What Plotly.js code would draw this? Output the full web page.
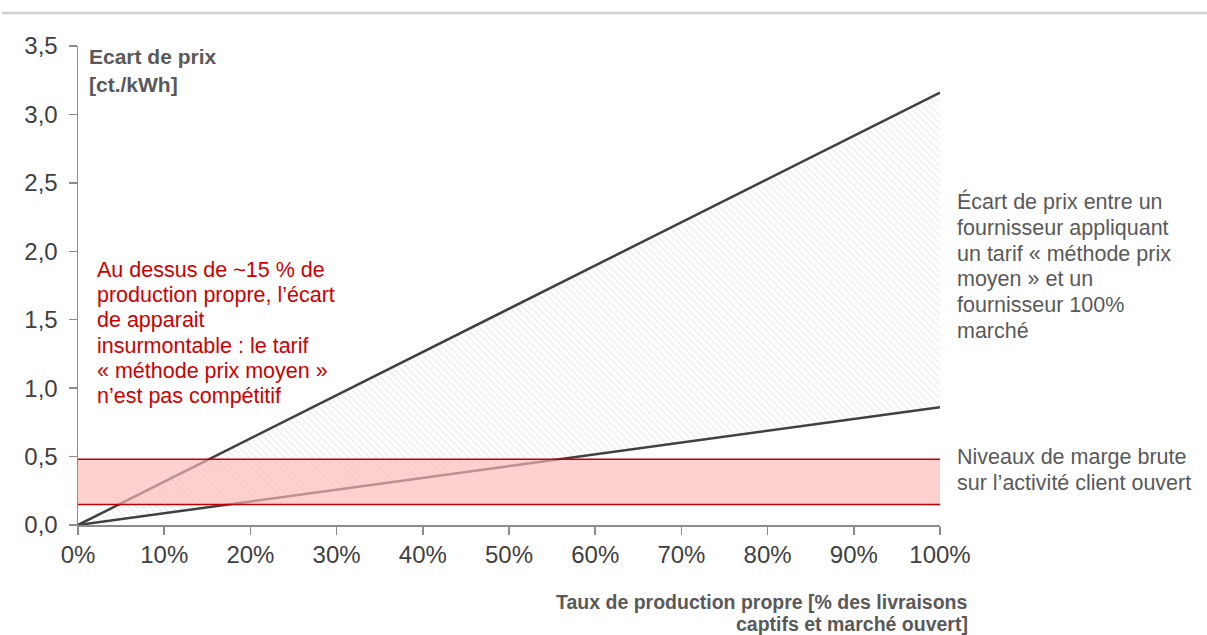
<!DOCTYPE html>
<html>
<head>
<meta charset="utf-8">
<script src="https://cdn.plot.ly/plotly-3.0.1.min.js"></script>
<style>
html,body{margin:0;padding:0;background:#fff;}
#chart{width:1207px;height:635px;}
</style>
</head>
<body>
<div id="chart"></div>
<script>
// ---- data ----
const share = [0, 1];                 // taux de production propre (0%..100%)
const upperGap = [0, 3.16];           // écart de prix, borne haute [ct./kWh]
const lowerGap = [0, 0.86];           // écart de prix, borne basse [ct./kWh]
const marginLow = [0.15, 0.15];       // niveau de marge brute bas
const marginHigh = [0.48, 0.48];      // niveau de marge brute haut
const xTickVals = [0, 0.1, 0.2, 0.3, 0.4, 0.5, 0.6, 0.7, 0.8, 0.9, 1];
const xTickText = ['0%', '10%', '20%', '30%', '40%', '50%', '60%', '70%', '80%', '90%', '100%'];
const yTickVals = [0, 0.5, 1, 1.5, 2, 2.5, 3, 3.5];
const yTickText = ['0,0', '0,5', '1,0', '1,5', '2,0', '2,5', '3,0', '3,5'];

const yTitleLines = ['<b>Ecart de prix</b>', '<b>[ct./kWh]</b>'];
const xTitleLines = ['<b>Taux de production propre [% des livraisons</b>', '<b>captifs et marché ouvert]</b>'];
const noteRedLines = ['Au dessus de ~15 % de', 'production propre, l’écart', 'de apparait',
  'insurmontable : le tarif', '« méthode prix moyen »', 'n’est pas compétitif'];
const noteGapLines = ['Écart de prix entre un', 'fournisseur appliquant', 'un tarif « méthode prix',
  'moyen » et un', 'fournisseur 100%', 'marché'];
const noteMarginLines = ['Niveaux de marge brute', 'sur l’activité client ouvert'];

const FONT = 'Liberation Sans, Arial, sans-serif';
const DARK = '#404040';
const GREY = '#595959';
const RED = '#C00000';

// plot area in pixels
const M = {l: 78, r: 267, t: 46, b: 110};
const PW = 1207 - M.l - M.r, PH = 635 - M.t - M.b;
const px2x = p => (p - M.l) / PW;
const py2y = p => (635 - M.b - p) / PH;

function lineNotes(lines, xPix, yPixFirst, step, anchor, size, color) {
  return lines.map((t, i) => ({
    xref: 'paper', yref: 'paper', x: px2x(xPix), y: py2y(yPixFirst + i * step),
    xanchor: anchor, yanchor: 'middle', align: anchor, showarrow: false,
    borderpad: 0, xshift: anchor === 'left' ? -1 : 1,
    text: t, font: {family: FONT, size: size, color: color}
  }));
}

const traces = [
  {x: share, y: lowerGap, mode: 'lines', line: {color: DARK, width: 2.5}, hoverinfo: 'skip'},
  {x: share, y: upperGap, mode: 'lines', line: {color: DARK, width: 2.5},
   fill: 'tonexty', fillcolor: 'rgba(0,0,0,0)',
   fillpattern: {shape: '\\', fgcolor: '#e6e6e6', bgcolor: 'rgba(0,0,0,0)', size: 5, solidity: 0.2},
   hoverinfo: 'skip'},
  {x: share, y: marginLow, mode: 'lines', line: {color: RED, width: 1.5}, hoverinfo: 'skip'},
  {x: share, y: marginHigh, mode: 'lines', line: {color: RED, width: 1.5},
   fill: 'tonexty', fillcolor: 'rgba(255,184,184,0.66)', hoverinfo: 'skip'}
];

const layout = {
  width: 1207, height: 635,
  margin: M,
  paper_bgcolor: '#fff', plot_bgcolor: '#fff',
  showlegend: false, hovermode: false,
  font: {family: FONT, color: DARK},
  xaxis: {
    range: [0, 1], tickvals: xTickVals, ticktext: xTickText,
    showline: true, linecolor: '#8c8c8c', linewidth: 1.5,
    ticks: 'outside', ticklen: 8, tickcolor: '#8c8c8c', tickwidth: 1.5,
    showgrid: false, zeroline: false,
    tickfont: {family: FONT, size: 24, color: DARK}
  },
  yaxis: {
    range: [0, 3.5], tickvals: yTickVals, ticktext: yTickText,
    showline: true, linecolor: '#8c8c8c', linewidth: 1.5,
    ticks: 'outside', ticklen: 8, tickcolor: '#8c8c8c', tickwidth: 1.5,
    ticklabelstandoff: 6,
    showgrid: false, zeroline: false,
    tickfont: {family: FONT, size: 24, color: DARK}
  },
  shapes: [
    {type: 'line', xref: 'paper', yref: 'paper', x0: px2x(2), x1: px2x(1207), y0: py2y(13), y1: py2y(13),
     line: {color: '#d0d0d0', width: 2.5}}
  ],
  annotations: [].concat(
    lineNotes(yTitleLines, 89, 56, 28, 'left', 21, GREY),
    lineNotes(xTitleLines, 968, 601.5, 22, 'right', 19.5, GREY),
    lineNotes(noteRedLines, 97, 270, 25.2, 'left', 21.5, '#CC0000'),
    lineNotes(noteGapLines, 957, 202, 25.8, 'left', 21.5, GREY),
    lineNotes(noteMarginLines, 957, 457, 26, 'left', 21.5, GREY)
  )
};

Plotly.newPlot('chart', traces, layout, {displayModeBar: false, staticPlot: true});
</script>
</body>
</html>
